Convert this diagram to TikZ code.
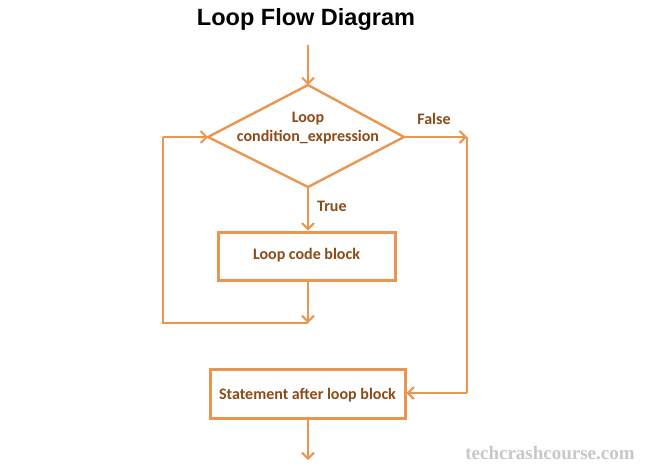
\documentclass[tikz,border=0pt]{standalone}
\usepackage{fontspec}
\setmainfont{Carlito}
\newfontfamily\titlefont{Liberation Sans}
\newfontfamily\wmfont{Liberation Serif}
\usetikzlibrary{arrows.meta,shapes.geometric}
\definecolor{lineor}{RGB}{235,150,80}
\definecolor{txtbr}{RGB}{140,75,25}
\definecolor{wmgray}{RGB}{200,200,200}
\tikzset{
  flow/.style={draw=lineor, line width=2.4pt},
  arr/.style={flow, -{Straight Barb[length=6pt,width=12pt,line width=2pt]}},
  boxnode/.style={draw=lineor, line width=3pt, rectangle, inner sep=0pt},
  lbl/.style={text=txtbr, font=\fontsize{16}{18}\selectfont\bfseries, inner sep=0pt},
}
\begin{document}
\begin{tikzpicture}[x=1pt,y=-1pt]
\useasboundingbox (0,0) rectangle (651,474);
\fill[white] (0,0) rectangle (651,474);
\node[font=\titlefont\bfseries\fontsize{23.5}{26}\selectfont, inner sep=0pt] (title) at (306,19) {Loop Flow Diagram};
% diamond
\coordinate (dT) at (308,85);
\coordinate (dL) at (208,137);
\coordinate (dR) at (404,137);
\coordinate (dB) at (308,187);
\draw[flow, line join=miter] (dT) -- (dR) -- (dB) -- (dL) -- cycle;
\node[lbl, align=center] (cond) at (308,128) {Loop\\[1pt]condition\_expression};
\coordinate (start) at (308,45);
\draw[arr] (start) -- (dT);
% box 1
\node[boxnode, minimum width=177pt, minimum height=48pt] (b1) at (306.5,256) {};
\node[lbl] (b1t) at (306.5,255) {Loop code block};
\draw[arr] (dB) -- (b1.north -| dB) node[lbl, pos=0.45, right=8pt] (truelbl) {True};
\coordinate (join) at (308,323);
\draw[arr] (b1.south -| dB) -- (join);
\coordinate (lc) at (163,323);
\coordinate (lt) at (163,137);
\draw[flow] (join) -- (lc) -- (lt);
\draw[arr] (lt) -- (dL);
% false branch
\coordinate (fr) at (467,137);
\coordinate (fb) at (467,393);
\node[lbl] (falselbl) at (434,119) {False};
\draw[arr] (dR) -- (fr);
\draw[flow] (fr) -- (fb);
% box 2
\node[boxnode, minimum width=195pt, minimum height=49pt] (b2) at (307.5,393.5) {};
\node[lbl] (b2t) at (307.5,395) {Statement after loop block};
\draw[arr] (fb) -- (b2.east |- fb);
\coordinate (end) at (308,460);
\draw[arr] (b2.south -| end) -- (end);
% watermark
\node[font=\wmfont\bfseries\fontsize{19}{22}\selectfont, text=wmgray, inner sep=0pt] (wm) at (550,453) {techcrashcourse.com};
\end{tikzpicture}
\end{document}
